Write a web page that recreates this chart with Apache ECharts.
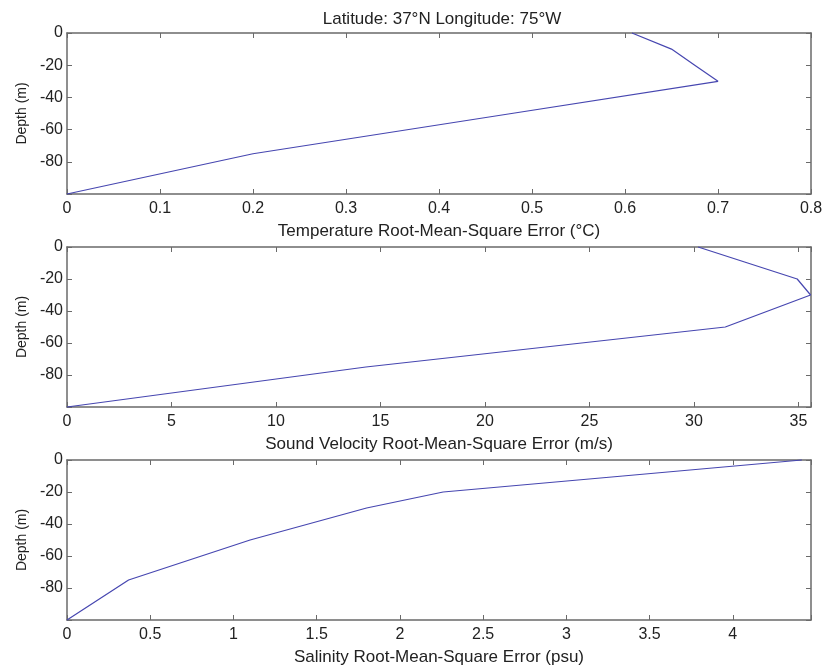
<!DOCTYPE html>
<html>
<head>
<meta charset="utf-8">
<script src="https://cdn.jsdelivr.net/npm/echarts@6/dist/echarts.min.js"></script>
<style>html,body{margin:0;padding:0;background:#fff;}#c{width:826px;height:672px;}</style>
</head>
<body>
<div id="c"></div>
<script>
// ---- data ----
const titleText = 'Latitude: 37°N Longitude: 75°W';
const depths = [0, -10, -20, -30, -50, -75, -100];
const tempRMSE = [0.6075, 0.65, 0.675, 0.70, 0.478, 0.20, 0];
const soundRMSE = [30.2, 32.57, 34.94, 35.58, 31.5, 14.3, 0];
const salinityRMSE = [4.415, 3.34, 2.26, 1.8, 1.1, 0.37, 0];
const xNames = ['Temperature Root-Mean-Square Error (°C)', 'Sound Velocity Root-Mean-Square Error (m/s)', 'Salinity Root-Mean-Square Error (psu)'];
const yName = 'Depth (m)';
const xRanges = [[0, 0.8, 0.1], [0, 35.6, 5], [0, 4.47, 0.5]];
const yRange = [-100, 0, 20];

const FONT = 'Liberation Sans, Arial, sans-serif';
const TXT = '#222';
const AX = '#6a6a6a';
const LINE = '#4646b0';

const panels = [
  {top: 33, height: 161},
  {top: 247, height: 160},
  {top: 460, height: 160}
];
const seriesVals = [tempRMSE, soundRMSE, salinityRMSE];

const grid = [], xAxis = [], yAxis = [], series = [];
panels.forEach((p, i) => {
  grid.push({left: 67, right: 15, top: p.top, height: p.height, show: false});
  const [xmin, xmax, xint] = xRanges[i];
  const tick = {show: true, inside: true, length: 5, lineStyle: {color: AX, width: 1}};
  const line = {show: true, onZero: false, lineStyle: {color: AX, width: 1.5}};
  const isTick = v => Math.abs(v / xint - Math.round(v / xint)) < 1e-6;
  xAxis.push({
    type: 'value', gridIndex: i, position: 'bottom', min: xmin, max: xmax, interval: xint,
    axisLine: line, axisTick: tick, splitLine: {show: false},
    axisLabel: {color: TXT, fontFamily: FONT, fontSize: 16, margin: 7,
      formatter: v => isTick(v) ? String(+v.toFixed(2)) : ''},
    name: xNames[i], nameLocation: 'middle', nameGap: 29,
    nameTextStyle: {color: TXT, fontFamily: FONT, fontSize: 17}
  });
  xAxis.push({
    type: 'value', gridIndex: i, position: 'top', min: xmin, max: xmax, interval: xint,
    axisLine: line, axisTick: tick, axisLabel: {show: false}, splitLine: {show: false}
  });
  yAxis.push({
    type: 'value', gridIndex: i, position: 'left', min: yRange[0], max: yRange[1], interval: yRange[2],
    axisLine: line, axisTick: tick, splitLine: {show: false},
    axisLabel: {color: TXT, fontFamily: FONT, fontSize: 16, margin: 4, formatter: v => v === yRange[0] ? '' : String(v)},
    name: yName, nameLocation: 'middle', nameGap: 37, nameRotate: 90,
    nameTextStyle: {color: TXT, fontFamily: FONT, fontSize: 14}
  });
  yAxis.push({
    type: 'value', gridIndex: i, position: 'right', min: yRange[0], max: yRange[1], interval: yRange[2],
    axisLine: line, axisTick: tick, axisLabel: {show: false}, splitLine: {show: false}
  });
  series.push({
    type: 'line', xAxisIndex: i * 2, yAxisIndex: i * 2, showSymbol: false, symbol: 'none',
    lineStyle: {color: LINE, width: 1.2}, clip: false,
    data: depths.map((d, k) => [seriesVals[i][k], d])
  });
});

const chart = echarts.init(document.getElementById('c'), null, {renderer: 'canvas'});
chart.setOption({
  backgroundColor: '#fff',
  animation: false,
  title: {text: titleText, left: 437, textAlign: 'center', top: 6,
    textStyle: {color: TXT, fontFamily: FONT, fontSize: 17, fontWeight: 'normal'}},
  grid, xAxis, yAxis, series
});
</script>
</body>
</html>
